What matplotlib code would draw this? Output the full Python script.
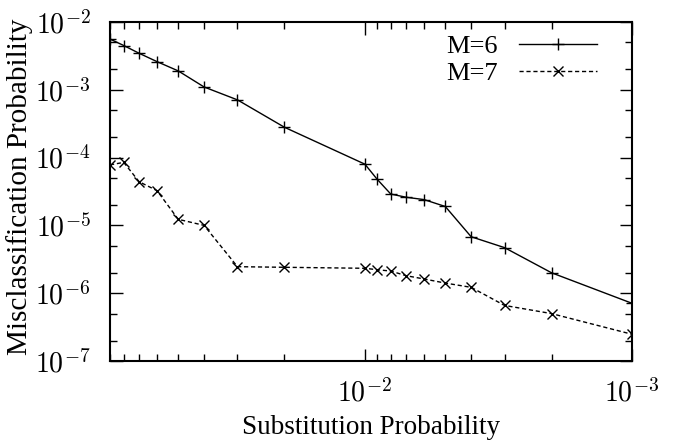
import numpy as np
import matplotlib
matplotlib.use('Agg')
from matplotlib import pyplot as plt
from matplotlib.ticker import LogLocator, NullFormatter, FuncFormatter

# Data
subst_m6 = [0.09, 0.08, 0.07, 0.06, 0.05, 0.04, 0.03, 0.02,
            0.01, 0.009, 0.008, 0.007, 0.006, 0.005, 0.004, 0.003, 0.002, 0.001]
miscl_m6 = [5.6e-3, 4.5e-3, 3.45e-3, 2.6e-3, 1.9e-3, 1.1e-3, 7.1e-4, 2.8e-4,
            8.0e-5, 4.8e-5, 2.9e-5, 2.6e-5, 2.4e-5, 1.9e-5, 6.8e-6, 4.7e-6, 2.0e-6, 7.1e-7]

subst_m7 = [0.09, 0.08, 0.07, 0.06, 0.05, 0.04, 0.03, 0.02,
            0.01, 0.009, 0.008, 0.007, 0.006, 0.005, 0.004, 0.003, 0.002, 0.001]
miscl_m7 = [7.8e-5, 8.5e-5, 4.4e-5, 3.25e-5, 1.23e-5, 1.0e-5, 2.46e-6, 2.41e-6,
            2.33e-6, 2.22e-6, 2.12e-6, 1.81e-6, 1.62e-6, 1.41e-6, 1.22e-6, 6.6e-7, 5.0e-7, 2.48e-7]

plt.rcParams['font.family'] = ['Liberation Serif', 'DejaVu Serif']
plt.rcParams['mathtext.fontset'] = 'cm'
fts = 19.5
tick_fts = 20

def pow10(v, pos):
    return r'$10^{%d}$' % int(round(np.log10(v)))

fig = plt.figure(figsize=(6.73, 4.46), dpi=100)
ax = fig.add_axes([0.1635, 0.1906, 0.7755, 0.7601])

ax.plot(subst_m6, miscl_m6, color='black', lw=1.0, marker='+', ms=9, mew=1.0, label='M=6')
ax.plot(subst_m7, miscl_m7, color='black', lw=1.0, ls=(0, (3, 2)), marker='x', ms=7, mew=1.0, label='M=7')

ax.set_xscale('log')
ax.set_yscale('log')
ax.set_xlim(0.09, 0.001)
ax.set_ylim(1e-7, 1e-2)

ax.xaxis.set_major_locator(LogLocator(base=10, numticks=10))
ax.xaxis.set_major_formatter(FuncFormatter(pow10))
ax.xaxis.set_minor_locator(LogLocator(base=10, subs=np.arange(2, 10), numticks=20))
ax.xaxis.set_minor_formatter(NullFormatter())
ax.yaxis.set_major_locator(LogLocator(base=10, numticks=10))
ax.yaxis.set_major_formatter(FuncFormatter(pow10))
ax.yaxis.set_minor_locator(LogLocator(base=10, subs=[2, 5], numticks=20))
ax.yaxis.set_minor_formatter(NullFormatter())

ax.tick_params(which='both', direction='in', top=True, right=True, labelsize=tick_fts)
ax.tick_params(which='major', length=9, width=1.0)
ax.tick_params(which='minor', length=5, width=1.0)
ax.tick_params(axis='x', which='major', pad=13)
ax.tick_params(axis='y', which='major', pad=14)
for sp in ax.spines.values():
    sp.set_linewidth(1.5)

ax.set_xlabel('Substitution Probability', fontsize=fts)
ax.xaxis.set_label_coords(0.5, -0.16)
ax.set_ylabel('Misclassification Probability', fontsize=21)
ax.yaxis.set_label_coords(-0.1475, 0.515)

ax.legend(loc='upper right', bbox_to_anchor=(0.963, 1.01), frameon=False, markerfirst=False,
          fontsize=19, handlelength=2.95, handletextpad=0.8, labelspacing=0.15,
          borderaxespad=0.2)

fig.savefig('out.png', dpi=100)
